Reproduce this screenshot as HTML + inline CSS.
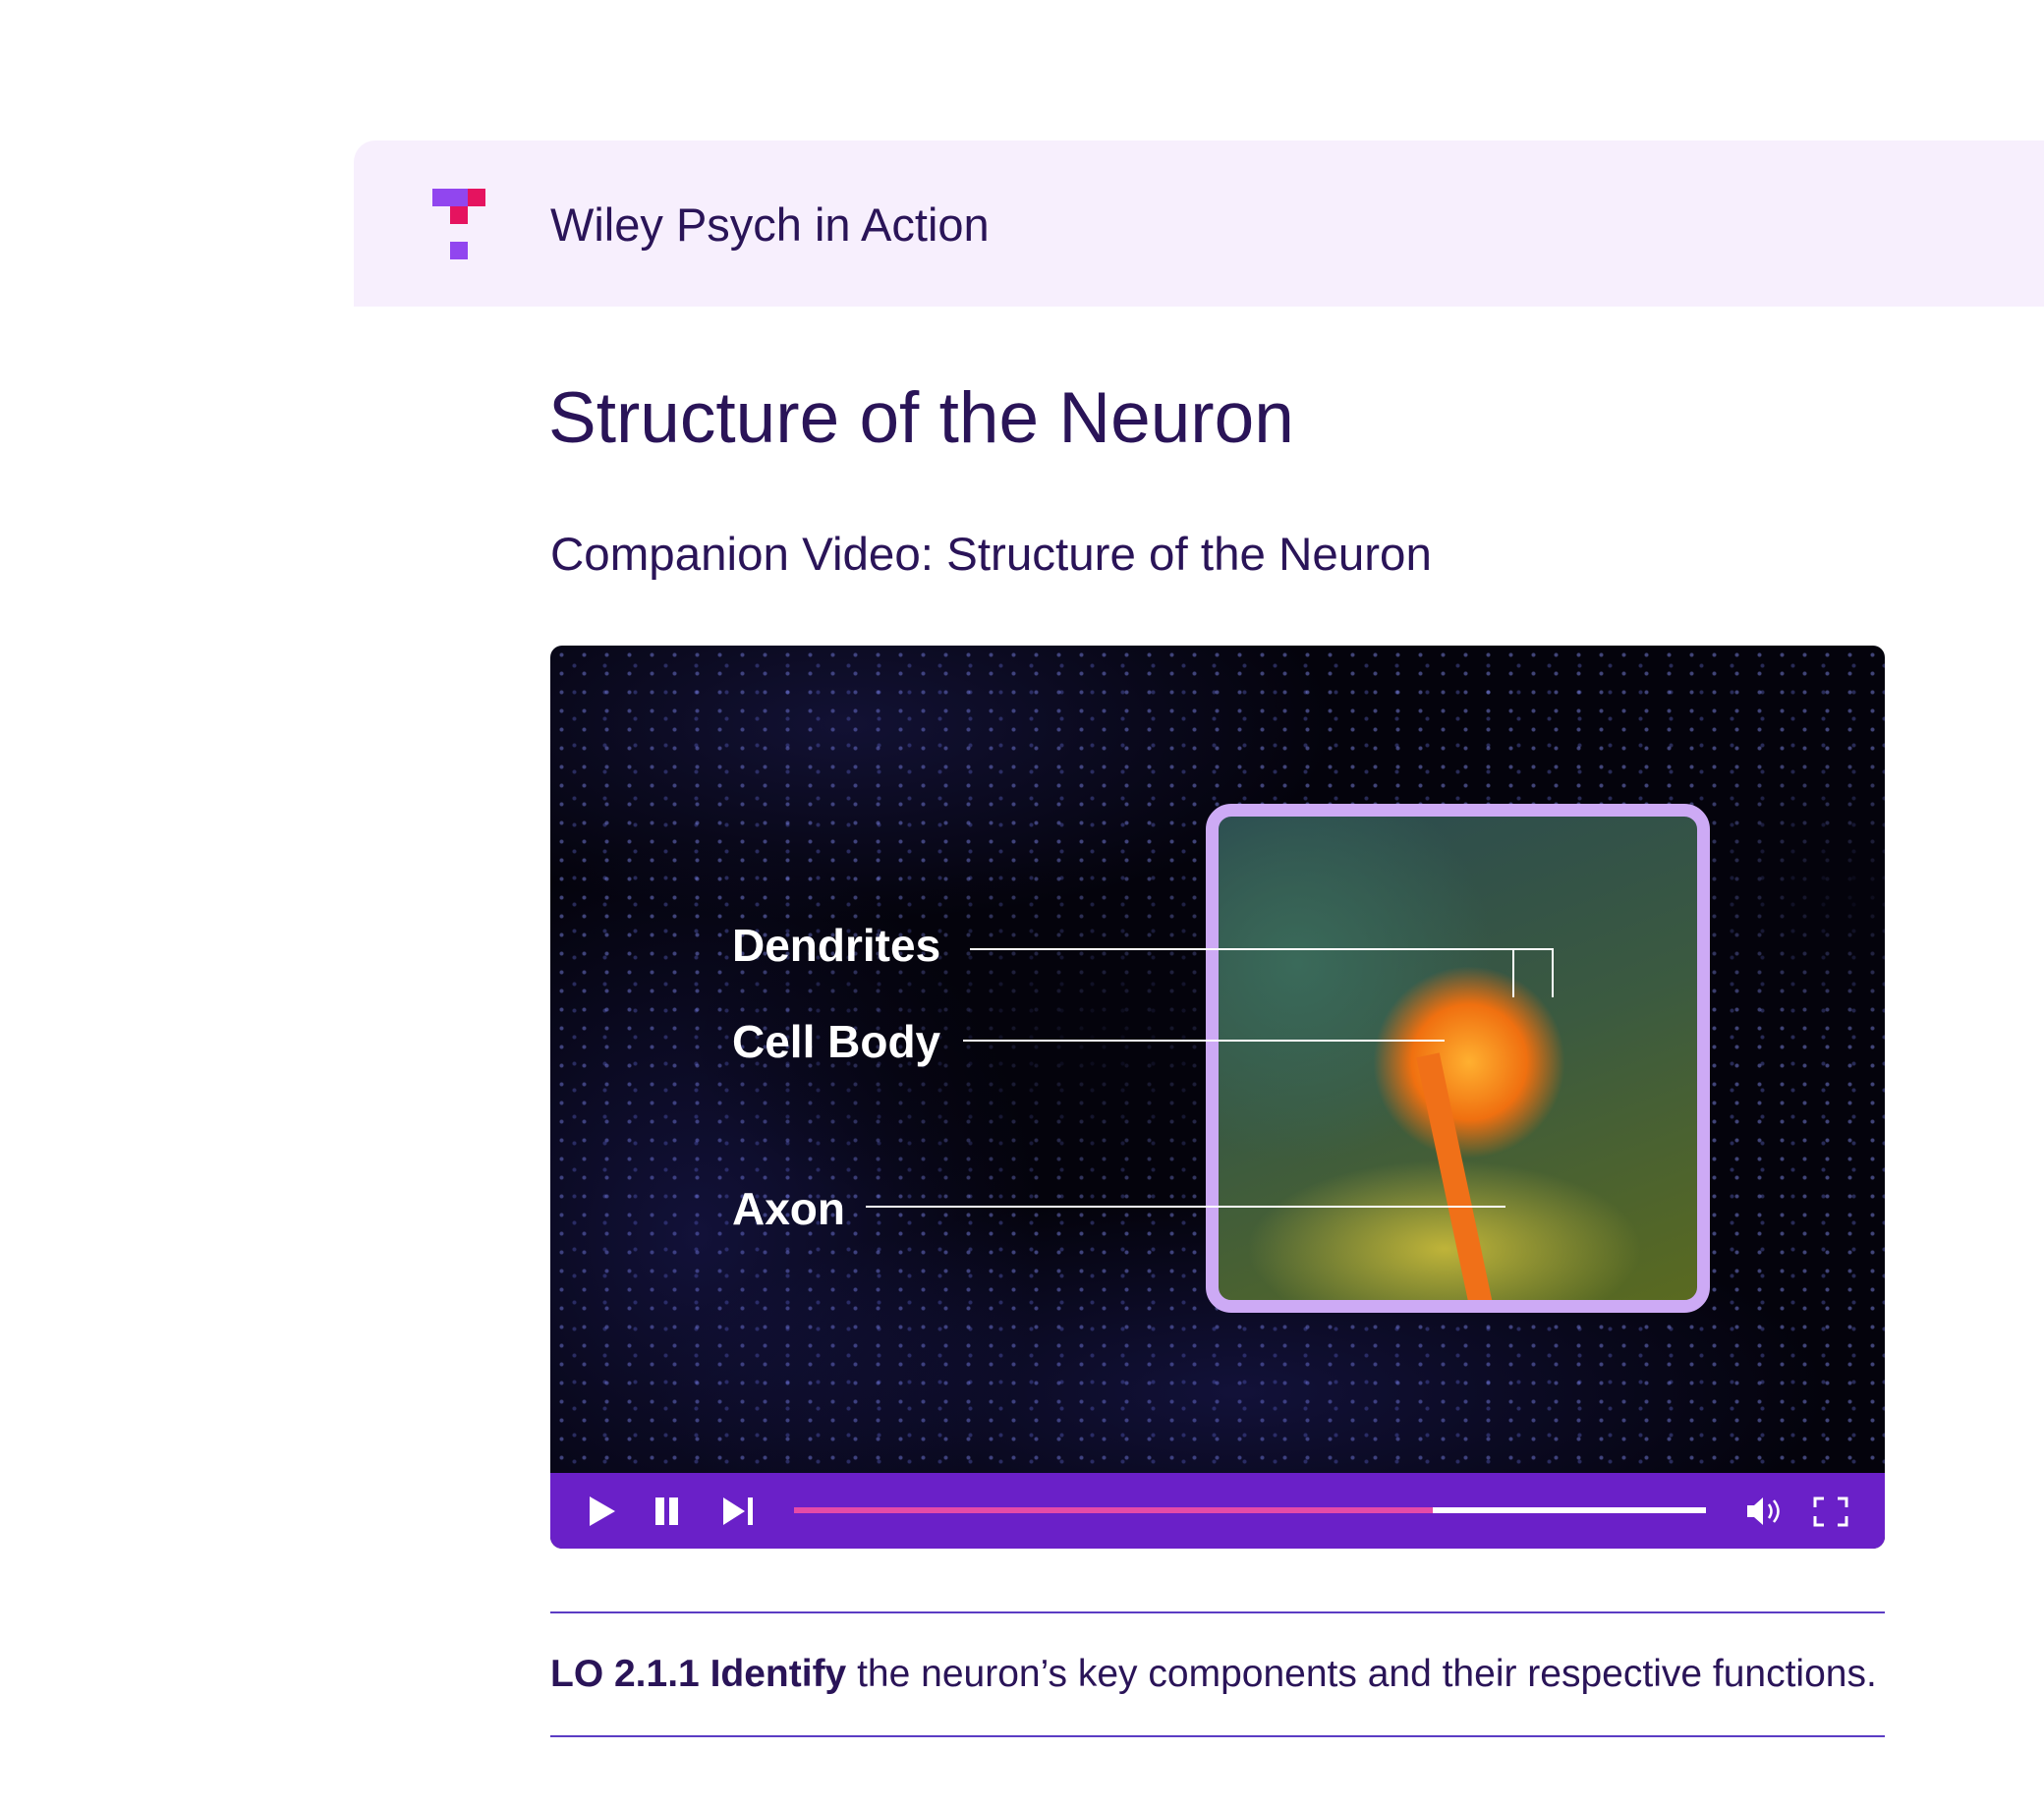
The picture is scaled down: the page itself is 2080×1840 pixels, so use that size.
<!DOCTYPE html>
<html><head><meta charset="utf-8"><style>
body{margin:0;width:2080px;height:1840px;background:#fff;position:relative;overflow:hidden;font-family:"Liberation Sans",sans-serif;color:#2a1458}
.a{position:absolute}
</style></head><body>
<div class="a" style="left:360px;top:143px;width:1720px;height:169px;background:#f7effd;border-radius:22px 0 0 0"></div>
<div class="a" style="left:440px;top:192px;width:36px;height:18px;background:#9146ef"></div>
<div class="a" style="left:476px;top:192px;width:18px;height:18px;background:#e5135f"></div>
<div class="a" style="left:458px;top:210px;width:18px;height:18px;background:#e5135f"></div>
<div class="a" style="left:458px;top:246px;width:18px;height:18px;background:#9146ef"></div>
<div class="a" style="left:560px;top:201px;font-size:47px;line-height:56px">Wiley Psych in Action</div>
<div class="a" style="left:558px;top:386px;font-size:73px;line-height:80px">Structure of the Neuron</div>
<div class="a" style="left:560px;top:537px;font-size:47.5px;line-height:56px">Companion Video: Structure of the Neuron</div>
<div class="a" style="left:560px;top:657px;width:1358px;height:919px;border-radius:12px;overflow:hidden;background:#04030c">
 <div class="a" style="left:0;top:0;width:1358px;height:842px;background:
 radial-gradient(circle,rgba(140,150,255,.45) 1.5px,transparent 2.5px) 0 0/23px 19px,
 radial-gradient(circle,rgba(110,120,230,.35) 1.5px,transparent 2.5px) 9px 7px/31px 27px;
 -webkit-mask-image:linear-gradient(#000,#000);"></div>
 <div class="a" style="left:0;top:0;width:1358px;height:842px;background:
 radial-gradient(ellipse 420px 200px at 550px 400px,rgba(4,3,12,.9),transparent),
 radial-gradient(ellipse 250px 150px at 1330px 250px,rgba(4,3,12,.9),transparent),
 radial-gradient(ellipse 500px 200px at 300px 80px,rgba(60,60,170,.25),transparent),
 radial-gradient(ellipse 350px 400px at 150px 600px,rgba(50,50,160,.3),transparent),
 radial-gradient(ellipse 600px 200px at 700px 760px,rgba(50,50,160,.3),transparent)"></div>
 <div class="a" style="left:667px;top:161px;width:487px;height:492px;border:13px solid #cdaaf5;border-radius:26px;overflow:hidden;background:
 radial-gradient(circle 130px at 255px 250px,#ffb030,#f07010 45%,transparent 75%),
 radial-gradient(ellipse 200px 90px at 230px 440px,rgba(220,200,60,.8),transparent),
 radial-gradient(ellipse 200px 200px at 80px 150px,#3a6a5a,transparent),
 linear-gradient(160deg,#2a4a50,#3b5a40 50%,#5a6a20)">
  <div class="a" style="left:228px;top:240px;width:24px;height:260px;background:#f07018;transform:rotate(-12deg)"></div>
 </div>
 <div class="a" style="left:185px;top:276px;font-size:46px;font-weight:bold;color:#fff;line-height:58px">Dendrites</div>
 <div class="a" style="left:185px;top:374px;font-size:46px;font-weight:bold;color:#fff;line-height:58px">Cell Body</div>
 <div class="a" style="left:185px;top:544px;font-size:46px;font-weight:bold;color:#fff;line-height:58px">Axon</div>
 <div class="a" style="left:427px;top:308px;width:594px;height:2px;background:#fff"></div>
 <div class="a" style="left:979px;top:308px;width:2px;height:50px;background:#fff"></div>
 <div class="a" style="left:1019px;top:308px;width:2px;height:50px;background:#fff"></div>
 <div class="a" style="left:420px;top:401px;width:490px;height:2px;background:#fff"></div>
 <div class="a" style="left:321px;top:570px;width:651px;height:2px;background:#fff"></div>
 <div class="a" style="left:0;top:842px;width:1358px;height:77px;background:#6a20c8">
  <svg width="1358" height="77" style="position:absolute;left:0;top:0">
   <polygon points="40,24 40,54 66,39" fill="#fff"/>
   <rect x="107" y="25" width="9" height="28" fill="#fff"/><rect x="121" y="25" width="9" height="28" fill="#fff"/>
   <polygon points="176,25 176,53 198,39" fill="#fff"/><rect x="201" y="25" width="5" height="28" fill="#fff"/>
   <rect x="248" y="35" width="650" height="6" fill="#e64aa8"/><rect x="898" y="35" width="278" height="6" fill="#fff"/>
   <polygon points="1218,33 1225,33 1234,25 1234,53 1225,45 1218,45" fill="#fff"/>
   <path d="M1240 32 q5 7 0 14 M1245 28 q9 11 0 22" stroke="#fff" stroke-width="2.5" fill="none"/>
   <path d="M1287 35 v-9 h9 M1310 26 h9 v9 M1319 44 v9 h-9 M1296 53 h-9 v-9" stroke="#fff" stroke-width="3" fill="none"/>
  </svg>
 </div>
</div>
<div class="a" style="left:560px;top:1640px;width:1358px;height:2px;background:#5b3cc4"></div>
<div class="a" style="left:560px;top:1681px;font-size:39px;line-height:46px;white-space:nowrap"><b>LO 2.1.1 Identify</b> the neuron’s key components and their respective functions.</div>
<div class="a" style="left:560px;top:1766px;width:1358px;height:2px;background:#5b3cc4"></div>
</body></html>
